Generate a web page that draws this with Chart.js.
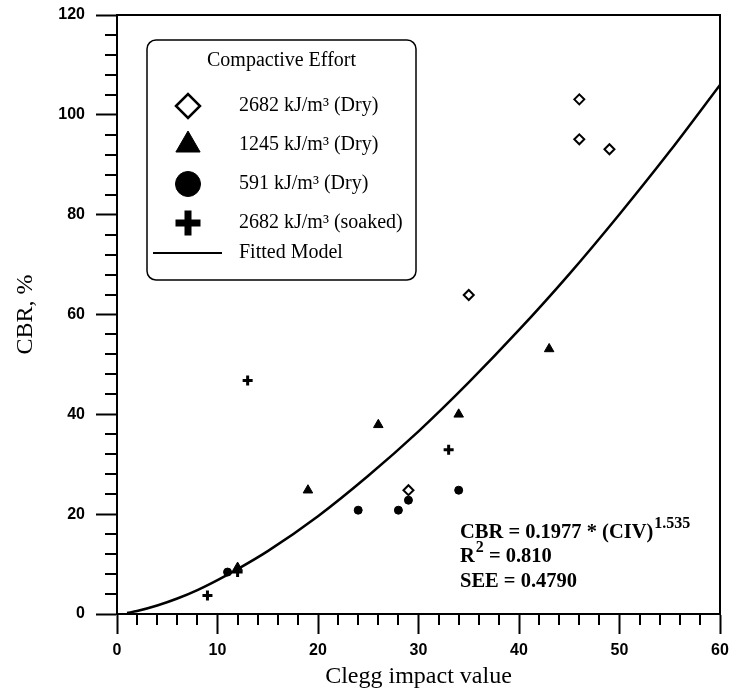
<!DOCTYPE html>
<html lang="en">
<head>
    <meta charset="UTF-8">
    <title>CBR vs Clegg impact value</title>
    <script src="https://cdn.jsdelivr.net/npm/chart.js"></script>
    <style>
        body { margin: 0; padding: 0; background: #fff; }
        canvas { display: block; }
    </style>
</head>
<body>
    <canvas id="cbrChart" width="733" height="695"></canvas>
    <script>
        // values
        const dry2682CIV = [46, 46, 49, 35, 29];
        const dry2682CBR = [103.1, 95.1, 93.1, 63.9, 24.8];

        const dry1245CIV = [19, 26, 34, 43, 12];
        const dry1245CBR = [24.8, 37.9, 40.0, 53.1, 9.3];

        const dry591CIV = [24, 28, 29, 34, 11];
        const dry591CBR = [20.8, 20.8, 22.8, 24.8, 8.4];

        const soaked2682CIV = [13, 33, 9, 12];
        const soaked2682CBR = [46.8, 32.9, 3.7, 8.4];

        // fitted model curve
        const fitCIV = [1, 2, 4, 6, 8, 10, 12, 15, 20, 25, 30, 35, 40, 45, 50, 55, 60];
        const fitCBR = [0.2, 0.6, 1.7, 3.1, 4.8, 6.8, 9.0, 12.6, 19.6, 27.7, 36.6, 46.4, 56.9, 68.1, 80.1, 92.7, 106.0];

        const legendTitle = 'Compactive Effort';
        const equationLines = [
            { main: 'CBR = 0.1977 * (CIV)', sup: '1.535', tail: '' },
            { main: 'R', sup: '2', tail: ' = 0.810' },
            { main: 'SEE = 0.4790', sup: '', tail: '' }
        ];

        const toPoints = (xs, ys) => xs.map((x, i) => ({ x: x, y: ys[i] }));

        const serif = '"Liberation Serif", "Times New Roman", serif';
        const sans = '"Liberation Sans", Arial, sans-serif';

        // minor ticks + top/right frame
        const frameAndMinorTicks = {
            id: 'frameAndMinorTicks',
            afterDraw(chart) {
                const ctx = chart.ctx;
                const area = chart.chartArea;
                const xs = chart.scales.x;
                const ys = chart.scales.y;
                ctx.save();
                ctx.strokeStyle = '#000';
                ctx.lineWidth = 2;
                ctx.beginPath();
                for (let v = 2; v < 60; v += 2) {
                    if (v % 10 === 0) continue;
                    const px = Math.round(xs.getPixelForValue(v));
                    ctx.moveTo(px, area.bottom);
                    ctx.lineTo(px, area.bottom + 11);
                }
                for (let v = 4; v < 120; v += 4) {
                    if (v % 20 === 0) continue;
                    const py = Math.round(ys.getPixelForValue(v));
                    ctx.moveTo(area.left - 12, py);
                    ctx.lineTo(area.left, py);
                }
                ctx.stroke();

                ctx.beginPath();
                ctx.moveTo(area.left, area.top);
                ctx.lineTo(area.right, area.top);
                ctx.lineTo(area.right, area.bottom);
                ctx.stroke();
                ctx.restore();
            }
        };

        function drawMarker(ctx, ds, r, x, y) {
            ctx.fillStyle = ds.backgroundColor;
            ctx.strokeStyle = ds.borderColor;
            ctx.lineWidth = ds.legendBorder;
            if (Chart.helpers && Chart.helpers.drawPoint) {
                Chart.helpers.drawPoint(ctx, { pointStyle: ds.pointStyle, radius: r, borderWidth: ds.legendBorder, rotation: 0 }, x, y);
            } else {
                ctx.beginPath();
                ctx.arc(x, y, r, 0, Math.PI * 2);
                ctx.fill();
            }
        }

        const boxLegend = {
            id: 'boxLegend',
            afterDraw(chart) {
                const ctx = chart.ctx;
                const left = 147, top = 40, right = 416, bottom = 280;
                ctx.save();
                ctx.strokeStyle = '#000';
                ctx.lineWidth = 1.5;
                ctx.beginPath();
                ctx.roundRect(left, top, right - left, bottom - top, 9);
                ctx.stroke();

                ctx.fillStyle = '#000';
                ctx.font = '20px ' + serif;
                ctx.textAlign = 'center';
                ctx.textBaseline = 'middle';
                ctx.fillText(legendTitle, (left + right) / 2, 61);

                const rows = [106, 145, 184, 223, 253];
                ctx.textAlign = 'left';
                chart.data.datasets.forEach((ds, i) => {
                    const y = rows[i];
                    if (ds.showLine) {
                        ctx.strokeStyle = '#000';
                        ctx.lineWidth = 2;
                        ctx.beginPath();
                        ctx.moveTo(153, y);
                        ctx.lineTo(222, y);
                        ctx.stroke();
                    } else {
                        drawMarker(ctx, ds, ds.legendRadius, 188, y);
                    }
                    ctx.fillStyle = '#000';
                    ctx.font = '20px ' + serif;
                    ctx.fillText(ds.label, 239, y);
                });
                ctx.restore();
            }
        };

        const equationText = {
            id: 'equationText',
            afterDraw(chart) {
                const ctx = chart.ctx;
                const x0 = 460;
                const ys = [533, 557, 582];
                ctx.save();
                ctx.fillStyle = '#000';
                ctx.textAlign = 'left';
                ctx.textBaseline = 'middle';
                equationLines.forEach((ln, i) => {
                    let x = x0;
                    ctx.font = 'bold 20.5px ' + serif;
                    ctx.fillText(ln.main, x, ys[i]);
                    x += ctx.measureText(ln.main).width;
                    if (ln.sup) {
                        ctx.font = 'bold 16px ' + serif;
                        ctx.fillText(ln.sup, x + 1, ys[i] - 9);
                        x += ctx.measureText(ln.sup).width + 1;
                    }
                    if (ln.tail) {
                        ctx.font = 'bold 20.5px ' + serif;
                        ctx.fillText(ln.tail, x, ys[i]);
                    }
                });
                ctx.restore();
            }
        };

        const ctx = document.getElementById('cbrChart').getContext('2d');
        const chart = new Chart(ctx, {
            type: 'scatter',
            data: {
                datasets: [
                    {
                        label: '2682 kJ/m³ (Dry)',
                        data: toPoints(dry2682CIV, dry2682CBR),
                        pointStyle: 'rectRot',
                        pointRadius: 5,
                        backgroundColor: '#fff',
                        borderColor: '#000',
                        borderWidth: 2,
                        legendRadius: 12,
                        legendBorder: 2.5
                    },
                    {
                        label: '1245 kJ/m³ (Dry)',
                        data: toPoints(dry1245CIV, dry1245CBR),
                        pointStyle: 'triangle',
                        pointRadius: 5.5,
                        backgroundColor: '#000',
                        borderColor: '#000',
                        borderWidth: 1,
                        legendRadius: 14,
                        legendBorder: 1
                    },
                    {
                        label: '591 kJ/m³ (Dry)',
                        data: toPoints(dry591CIV, dry591CBR),
                        pointStyle: 'circle',
                        pointRadius: 4,
                        backgroundColor: '#000',
                        borderColor: '#000',
                        borderWidth: 1,
                        legendRadius: 12.5,
                        legendBorder: 1
                    },
                    {
                        label: '2682 kJ/m³ (soaked)',
                        data: toPoints(soaked2682CIV, soaked2682CBR),
                        pointStyle: 'cross',
                        pointRadius: 5,
                        backgroundColor: '#000',
                        borderColor: '#000',
                        borderWidth: 3,
                        legendRadius: 12.5,
                        legendBorder: 7
                    },
                    {
                        label: 'Fitted Model',
                        data: toPoints(fitCIV, fitCBR),
                        showLine: true,
                        pointRadius: 0,
                        borderColor: '#000',
                        backgroundColor: '#000',
                        borderWidth: 2.5,
                        cubicInterpolationMode: 'monotone'
                    }
                ]
            },
            options: {
                responsive: false,
                animation: false,
                layout: { padding: { top: 15, right: 13, left: 0, bottom: 0 } },
                plugins: {
                    legend: { display: false },
                    tooltip: { enabled: false }
                },
                scales: {
                    x: {
                        type: 'linear',
                        position: 'bottom',
                        min: 0,
                        max: 60,
                        ticks: {
                            stepSize: 10,
                            padding: 7,
                            color: '#000',
                            font: { family: sans, size: 16, weight: 'bold' }
                        },
                        grid: { drawOnChartArea: false, tickLength: 20, tickWidth: 2, tickColor: '#000' },
                        border: { color: '#000', width: 2 },
                        title: {
                            display: true,
                            text: 'Clegg impact value',
                            color: '#000',
                            font: { family: serif, size: 24 },
                            padding: { top: 0, bottom: 4 }
                        },
                        afterFit: (scale) => {
                            scale.height = 81;
                            scale.paddingLeft = 0;
                            scale.paddingRight = 0;
                        }
                    },
                    y: {
                        type: 'linear',
                        min: 0,
                        max: 120,
                        ticks: {
                            stepSize: 20,
                            padding: 11,
                            color: '#000',
                            font: { family: sans, size: 16, weight: 'bold' }
                        },
                        grid: { drawOnChartArea: false, tickLength: 21, tickWidth: 2, tickColor: '#000' },
                        border: { color: '#000', width: 2 },
                        title: {
                            display: true,
                            text: 'CBR, %',
                            color: '#000',
                            font: { family: serif, size: 24 },
                            padding: { top: 11, bottom: 0 }
                        },
                        afterFit: (scale) => {
                            scale.width = 117;
                            scale.paddingTop = 0;
                            scale.paddingBottom = 0;
                        }
                    }
                }
            },
            plugins: [frameAndMinorTicks, boxLegend, equationText]
        });
    </script>
</body>
</html>
